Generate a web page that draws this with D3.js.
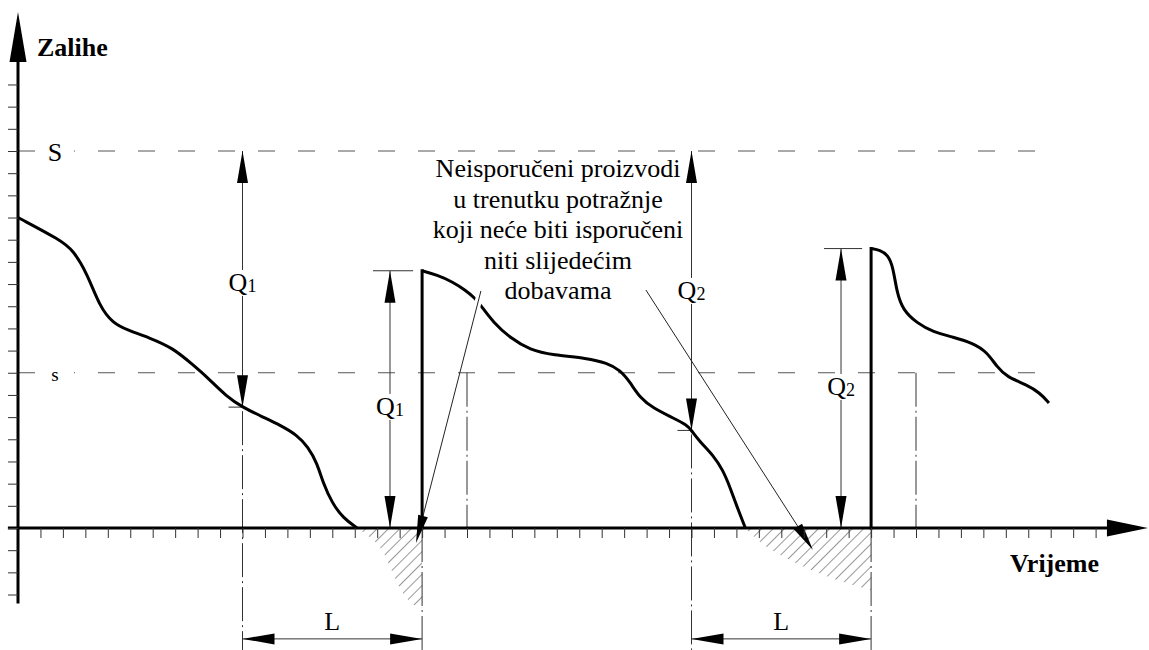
<!DOCTYPE html>
<html><head><meta charset="utf-8">
<script src="https://cdn.jsdelivr.net/npm/d3@7"></script>
<style>
html,body{margin:0;padding:0;background:#fff;}
svg{display:block;}
</style></head><body>
<svg id="chart" width="1149" height="650" font-family="'Liberation Serif', 'DejaVu Serif', serif"></svg>
<script>
// ---------------- data (time units, stock units) ----------------
const stockLevels = [17, 7];
const stockLevelLabels = ["S", "s"];
const curve1 = [[0,14],[1.9,12.98],[2.45,12.53],[3.07,11.5],[3.65,9.96],[4.23,9.24],[4.86,8.93],[5.88,8.57],[6.9,8.12],[7.8,7.35],[8.42,6.81],[9.31,5.91],[10,5.45],[10.91,5.0],[11.67,4.64],[12.43,4.19],[12.92,3.65],[13.32,2.93],[13.59,2.03],[13.99,1.13],[14.48,0.45],[15.1,0]];
const curve2 = [[18,11.6],[18.66,11.41],[19.38,11.09],[19.91,10.73],[20.36,10.37],[20.67,9.96],[21.16,9.29],[21.92,8.57],[22.81,8.03],[23.83,7.8],[25.35,7.66],[26.24,7.44],[26.82,7.12],[27.26,6.58],[27.71,5.86],[28.29,5.41],[29.18,4.96],[29.8,4.64],[30,4.4],[30.38,3.88],[30.96,3.29],[31.4,2.61],[31.71,1.85],[32.03,0.95],[32.4,0]];
const curve3 = [[38,12.6],[38.4,12.53],[38.75,12.31],[38.98,11.77],[39.15,10.6],[39.42,9.83],[40.04,9.24],[40.76,8.84],[41.65,8.61],[42.54,8.34],[43.16,7.94],[43.61,7.26],[44.05,6.81],[44.94,6.45],[45.52,6.09],[45.92,5.64]];
const shortage1 = [[15.1,0],[15.77,-0.45],[16.26,-0.99],[16.57,-1.76],[16.88,-2.48],[17.24,-3.11],[17.59,-3.47],[18,-3.61]];
const shortage2 = [[32.4,0],[33.05,-0.68],[33.94,-1.22],[34.97,-1.76],[36.17,-2.25],[37.19,-2.57],[38,-2.8]];
const reorderTimes = [10, 30];
const arrivalTimes = [18, 38];
const reorderStock = [5.45, 4.4];
const orderQty = [11.6, 12.6];
const orderIndex = ["1", "2"];
const qDimTimes = [16.57, 36.66];
const upperLabelV = [11.05, 10.69];
const lowerLabelV = [5.46, 6.36];
const markTimes = [20, 40];
const xTicks = d3.range(1, 49);
const yTicks = d3.range(-3, 21);
const noteLines = ["Neisporučeni proizvodi","u trenutku potražnje","koji neće biti isporučeni","niti slijedećim","dobavama"];
const leaderStarts = [[20.62,10.69],[27.97,10.73]];
const leaderTips = [[17.73,-0.68],[35.41,-0.99]];
const axisTitles = ["Zalihe","Vrijeme"];
const leadLabel = "L";
const levelLineEnd = 45.9;
const xAxisRange = [-0.45, 50.33];
const yAxisRange = [-3.4, 23.27];
const leadDimV = -5, leadLabelV = -4.6, guideBottomV = -5.5;

// ---------------- scales ----------------
const x = d3.scaleLinear().domain([0, 48]).range([18, 18 + 48 * 22.45]);
const y = d3.scaleLinear().domain([0, 17]).range([528, 151]);

const svg = d3.select("#chart");
const defs = svg.append("defs");
const pat = defs.append("pattern").attr("id","hatch").attr("patternUnits","userSpaceOnUse")
  .attr("width",8).attr("height",8).attr("patternTransform","rotate(45)");
pat.append("line").attr("x1",0).attr("y1",0).attr("x2",0).attr("y2",8).attr("stroke","#333").attr("stroke-width",1);

const thin = "#333";
function arrowHead(g, tx, ty, dx, dy, len, hw) {
  const bx = tx - dx*len, by = ty - dy*len;
  const px = -dy, py = dx;
  g.append("polygon").attr("points",
    [[tx,ty],[bx+px*hw,by+py*hw],[bx-px*hw,by-py*hw]].map(p=>p.join(",")).join(" "))
    .attr("fill","#000");
}

// ---------------- level lines S, s ----------------
const lv = svg.append("g");
stockLevels.forEach((v,i)=>{
  lv.append("line").attr("x1",x(0)).attr("x2",x(levelLineEnd)).attr("y1",y(v)).attr("y2",y(v))
    .attr("stroke","#555").attr("stroke-width",1).attr("stroke-dasharray","17,23");
  lv.append("rect").attr("x",x(0)+19).attr("y",y(v)-12).attr("width",37).attr("height",24).attr("fill","#fff");
  lv.append("text").attr("x",x(1.65)).attr("y",y(v)+(i===0?10:8)).attr("text-anchor","middle")
    .attr("font-size", i===0?26:19).text(stockLevelLabels[i]);
});

// ---------------- hatched shortage areas ----------------
const area = d3.area().x(d=>x(d[0])).y0(y(0)).y1(d=>y(d[1])).curve(d3.curveBasis);
[shortage1, shortage2].forEach(s=>{
  svg.append("path").datum(s).attr("d",area).attr("fill","url(#hatch)");
});

// ---------------- dash-dot guides ----------------
const dd = "34,4,2,4";
const guides = svg.append("g").attr("stroke",thin).attr("stroke-width",1).attr("stroke-dasharray",dd);
reorderTimes.forEach((t,i)=>{
  guides.append("line").attr("x1",x(t)).attr("x2",x(t)).attr("y1",y(reorderStock[i])+4).attr("y2",y(guideBottomV));
});
arrivalTimes.forEach(t=>{
  guides.append("line").attr("x1",x(t)).attr("x2",x(t)).attr("y1",y(0)).attr("y2",y(guideBottomV));
});
markTimes.forEach(t=>{
  guides.append("line").attr("x1",x(t)).attr("x2",x(t)).attr("y1",y(stockLevels[1])).attr("y2",y(0));
});

// ---------------- dimension lines ----------------
const dims = svg.append("g");
function qLabel(cx, cy, idx) {
  const t = dims.append("text").attr("x",cx).attr("y",cy+8).attr("text-anchor","middle").attr("font-size",26);
  t.append("tspan").text("Q");
  t.append("tspan").attr("font-size",18).attr("dy",1).text(idx);
  const b = t.node().getBBox();
  dims.insert("rect","text").attr("x",b.x-2).attr("y",cy-13).attr("width",b.width+4).attr("height",26).attr("fill","#fff");
}
reorderTimes.forEach((t,i)=>{
  const X = x(t);
  dims.append("line").attr("x1",X).attr("x2",X).attr("y1",y(stockLevels[0])).attr("y2",y(reorderStock[i]))
    .attr("stroke",thin).attr("stroke-width",1);
  dims.append("line").attr("x1",X-14).attr("x2",X).attr("y1",y(reorderStock[i])).attr("y2",y(reorderStock[i]))
    .attr("stroke",thin).attr("stroke-width",1);
  arrowHead(dims, X, y(stockLevels[0]), 0, -1, 32, 5.5);
  arrowHead(dims, X, y(reorderStock[i]), 0, 1, 32, 5.5);
});
qDimTimes.forEach((t,i)=>{
  const X = x(t);
  dims.append("line").attr("x1",X).attr("x2",X).attr("y1",y(orderQty[i])).attr("y2",y(0))
    .attr("stroke",thin).attr("stroke-width",1);
  dims.append("line").attr("x1",X-17).attr("x2",x(arrivalTimes[i])-9).attr("y1",y(orderQty[i])).attr("y2",y(orderQty[i]))
    .attr("stroke",thin).attr("stroke-width",1);
  arrowHead(dims, X, y(orderQty[i]), 0, -1, 32, 5.5);
  arrowHead(dims, X, y(0), 0, 1, 32, 5.5);
});
reorderTimes.forEach((t,i)=>{
  qLabel(x(t), y(upperLabelV[i]), orderIndex[i]);
  qLabel(x(qDimTimes[i]), y(lowerLabelV[i]), orderIndex[i]);
});
// lead time L
reorderTimes.forEach((t,i)=>{
  const x1 = x(t), x2 = x(arrivalTimes[i]), Y = y(leadDimV);
  dims.append("line").attr("x1",x1).attr("x2",x2).attr("y1",Y).attr("y2",Y).attr("stroke",thin).attr("stroke-width",1);
  arrowHead(dims, x1, Y, -1, 0, 32, 5.5);
  arrowHead(dims, x2, Y, 1, 0, 32, 5.5);
  dims.append("text").attr("x",(x1+x2)/2).attr("y",y(leadLabelV)).attr("text-anchor","middle")
    .attr("font-size",26).text(leadLabel);
});

// ---------------- inventory curves ----------------
const line = d3.line().x(d=>x(d[0])).y(d=>y(d[1])).curve(d3.curveBasis);
[curve1, curve2, curve3].forEach(c=>{
  svg.append("path").datum(c).attr("d",line).attr("fill","none").attr("stroke","#000")
    .attr("stroke-width",3).attr("stroke-linejoin","round");
});
// replenishment jumps
arrivalTimes.forEach((t,i)=>{
  svg.append("line").attr("x1",x(t)).attr("x2",x(t)).attr("y1",y(0)).attr("y2",y(orderQty[i]))
    .attr("stroke","#000").attr("stroke-width",3).attr("stroke-linecap","square");
});

// ---------------- leader lines ----------------
leaderStarts.forEach((s,i)=>{
  const tip = leaderTips[i];
  const sx = x(s[0]), sy = y(s[1]), tx = x(tip[0]), ty = y(tip[1]);
  const L = Math.hypot(tx-sx, ty-sy), ux = (tx-sx)/L, uy = (ty-sy)/L;
  if (i === 0) {
    svg.append("line").attr("x1",sx).attr("y1",sy).attr("x2",sx+ux*26).attr("y2",sy+uy*26)
      .attr("stroke","#fff").attr("stroke-width",7);
  }
  svg.append("line").attr("x1",sx).attr("y1",sy).attr("x2",tx-ux*20).attr("y2",ty-uy*20)
    .attr("stroke","#222").attr("stroke-width",1);
  arrowHead(svg, tx, ty, ux, uy, 28, 5);
});

// ---------------- axes ----------------
const ax = svg.append("g");
ax.append("line").attr("x1",x(xAxisRange[0])).attr("x2",x(xAxisRange[1])-40).attr("y1",y(0)).attr("y2",y(0))
  .attr("stroke","#000").attr("stroke-width",3);
arrowHead(ax, x(xAxisRange[1]), y(0), 1, 0, 41, 8.5);
ax.append("line").attr("x1",x(0)).attr("x2",x(0)).attr("y1",y(yAxisRange[0])).attr("y2",y(yAxisRange[1])+48)
  .attr("stroke","#000").attr("stroke-width",3);
arrowHead(ax, x(0), y(yAxisRange[1]), 0, -1, 50, 8.5);

const gx = svg.append("g").attr("transform",`translate(0,${y(0)})`)
  .call(d3.axisBottom(x).tickValues(xTicks).tickSize(10).tickFormat(""));
gx.select(".domain").remove();
gx.selectAll(".tick line").attr("stroke",thin).attr("stroke-width",1);
const gy = svg.append("g").attr("transform",`translate(${x(0)},0)`)
  .call(d3.axisLeft(y).tickValues(yTicks).tickSize(10).tickFormat(""));
gy.select(".domain").remove();
gy.selectAll(".tick line").attr("stroke",thin).attr("stroke-width",1);

// ---------------- texts ----------------
svg.append("text").attr("x",37).attr("y",56).attr("font-size",26).attr("font-weight","bold").text(axisTitles[0]);
svg.append("text").attr("x",1010).attr("y",572).attr("font-size",26).attr("font-weight","bold").text(axisTitles[1]);
const note = svg.append("text").attr("text-anchor","middle").attr("font-size",26);
noteLines.forEach((l,i)=>{
  note.append("tspan").attr("x",558).attr("y",177 + i*30.5).text(l);
});
</script>
</body></html>
